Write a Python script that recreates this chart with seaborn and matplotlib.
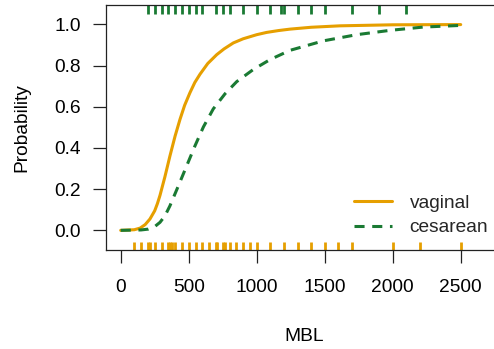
import matplotlib
matplotlib.use("Agg")
import matplotlib.pyplot as plt
import seaborn as sns
import pandas as pd

# ---- data ----
vag_x = [0, 100, 143, 180, 215, 250, 270, 289, 325, 362, 400, 436, 470, 509, 545, 583, 640, 706, 760, 828,
         900, 1000, 1073, 1160, 1245, 1400, 1612, 2000, 2500]
vag_y = [0.0, 0.003, 0.011, 0.028, 0.055, 0.095, 0.13, 0.17, 0.26, 0.361, 0.458, 0.539, 0.607, 0.668, 0.718,
         0.758, 0.810, 0.853, 0.881, 0.910, 0.930, 0.950, 0.961, 0.970, 0.977, 0.986, 0.993, 0.998, 0.999]

ces_x = [0, 150, 203, 250, 289, 325, 362, 424, 485, 546, 608, 681, 767, 853, 975, 1098, 1245, 1490, 1735,
         1980, 2225, 2500]
ces_y = [0.0, 0.002, 0.006, 0.018, 0.039, 0.07, 0.119, 0.216, 0.313, 0.410, 0.502, 0.590, 0.663, 0.722,
         0.781, 0.829, 0.874, 0.920, 0.950, 0.971, 0.987, 0.995]

vag_rug = [100, 150, 200, 215, 250, 300, 350, 365, 380, 400, 450, 500, 550, 600, 650, 700, 710, 750,
           765, 800, 850, 900, 950, 1000, 1100, 1200, 1300, 1400, 1500, 1600, 1700, 2000, 2200, 2500]
ces_rug = [200, 250, 300, 350, 400, 450, 500, 550, 600, 700, 750, 800, 900, 1000, 1100, 1175, 1200,
           1300, 1400, 1500, 1700, 1900, 2100]

labels = ["vaginal", "cesarean"]
x_ticks = [0, 500, 1000, 1500, 2000, 2500]
y_ticks = [0.0, 0.2, 0.4, 0.6, 0.8, 1.0]

ORANGE = "#E69F00"
GREEN = "#1A7A33"

sns.set_theme(style="ticks")
plt.rcParams["font.family"] = ["Liberation Sans", "DejaVu Sans"]
plt.rcParams["font.size"] = 13.8

fig = plt.figure(figsize=(4.94, 3.49), dpi=100)
ax = fig.add_axes([0.2146, 0.2845, 0.8028, 0.7011])

df_v = pd.DataFrame({"MBL": vag_x, "p": vag_y})
df_c = pd.DataFrame({"MBL": ces_x, "p": ces_y})

sns.lineplot(data=df_v, x="MBL", y="p", color=ORANGE, linewidth=2.2, ax=ax, label=labels[0])
sns.lineplot(data=df_c, x="MBL", y="p", color=GREEN, linewidth=2.2, ax=ax, label=labels[1])
ax.lines[1].set_dashes((3.3, 2.5))

# rugs
sns.rugplot(x=vag_rug, height=0.033, color=ORANGE, linewidth=2.0, ax=ax, clip_on=False)
ax.vlines(ces_rug, 0.965, 1.0, transform=ax.get_xaxis_transform(), color=GREEN, linewidth=2.0)

ax.set_xlim(-108, 2808)
ax.set_ylim(-0.094, 1.094)
ax.set_xticks(x_ticks)
ax.set_xticklabels([str(v) for v in x_ticks])
ax.set_yticks(y_ticks)
ax.set_yticklabels([f"{v:.1f}" for v in y_ticks])

for s in ax.spines.values():
    s.set_visible(True)
    s.set_color("#222222")
    s.set_linewidth(0.9)

ax.tick_params(axis="both", length=9.4, width=0.9, color="#222222", labelsize=13.8, labelcolor="black")
ax.tick_params(axis="x", pad=11.5)
ax.tick_params(axis="y", pad=8.9)

ax.set_xlabel("MBL", fontsize=13.8, color="black")
ax.set_ylabel("Probability", fontsize=13.8, color="black")
ax.xaxis.set_label_coords(0.499, -0.322)
ax.yaxis.set_label_coords(-0.190, 0.5)

leg = ax.legend(loc="center left", bbox_to_anchor=(354 / 494, 1 - 215.5 / 349),
                bbox_transform=fig.transFigure, frameon=False, borderpad=0,
                handlelength=1.97, handletextpad=0.93, labelspacing=0.35,
                fontsize=13.8, borderaxespad=0)
for h in leg.get_lines():
    h.set_linewidth(2.2)

fig.savefig("out.png", dpi=100)
